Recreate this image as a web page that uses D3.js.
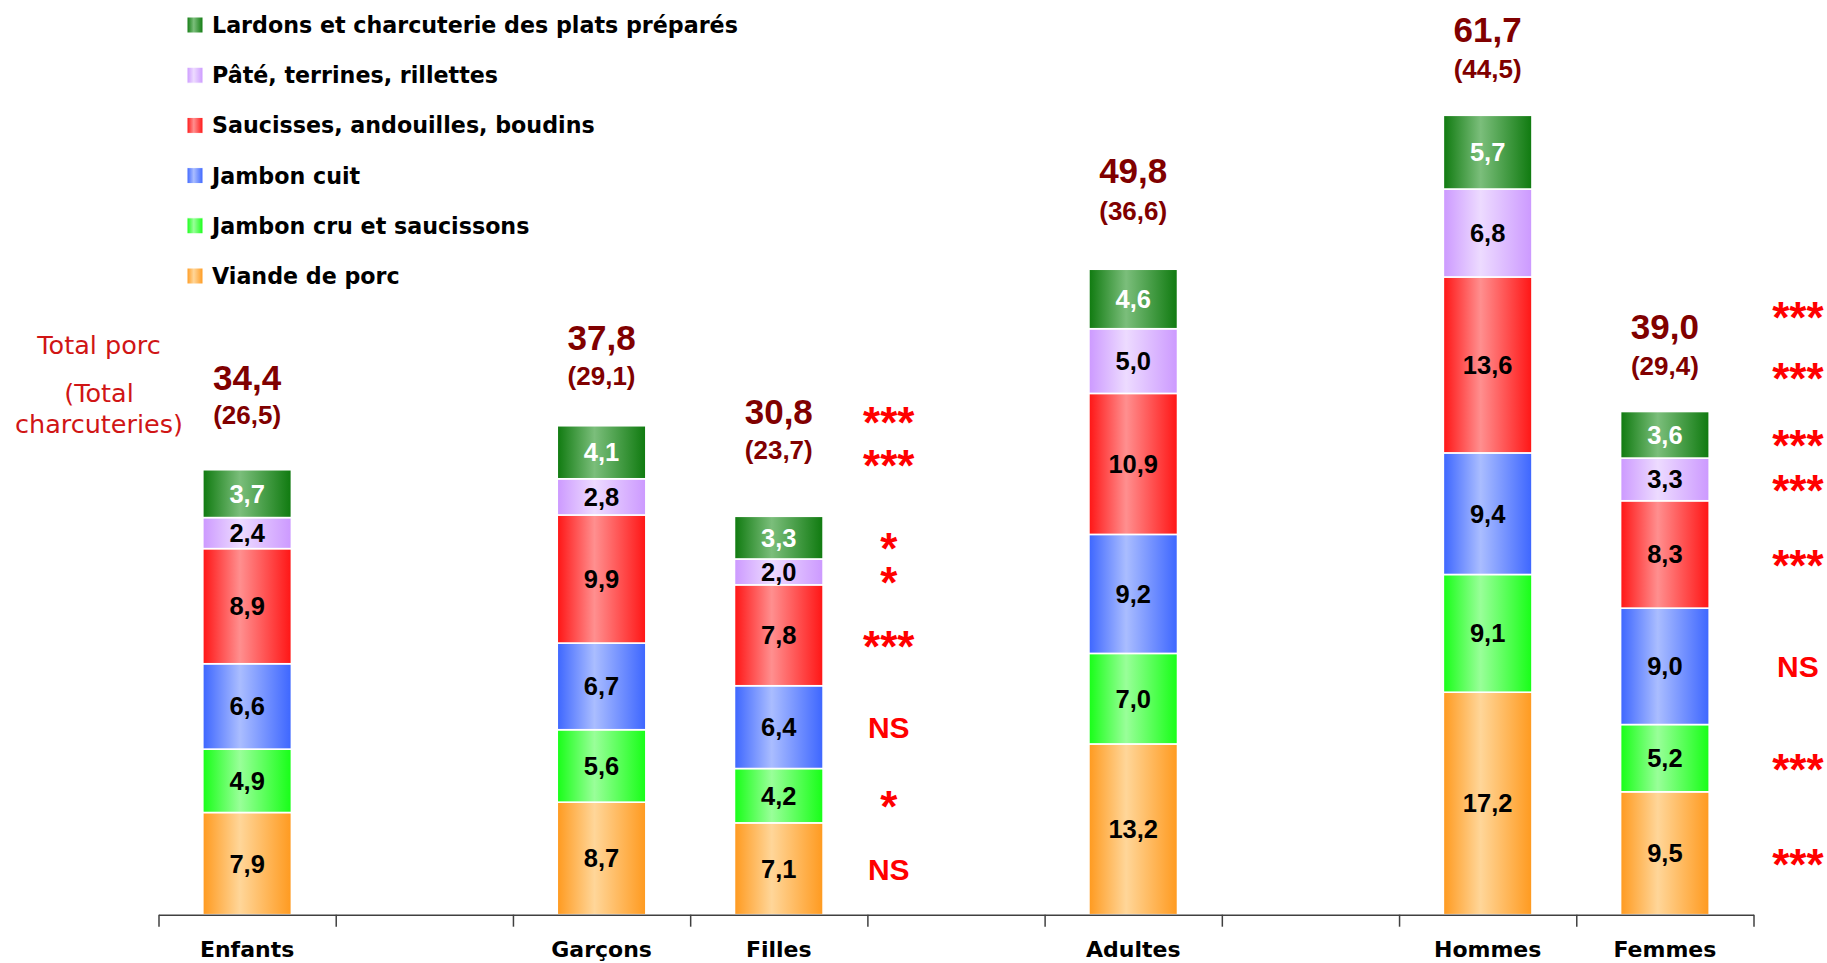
<!DOCTYPE html>
<html><head><meta charset="utf-8">
<script src="https://cdn.jsdelivr.net/npm/d3@7"></script>
<style>html,body{margin:0;padding:0;background:#fff;} svg{display:block;}</style>
</head><body>
<svg id="chart" width="1827" height="963"></svg>
<script>
// ---------------- DATA ----------------
const slotKeys = ["Enfants", "gap1", "Garçons", "Filles", "gap2", "Adultes", "gap3", "Hommes", "Femmes"];
const tickLabels = ["Enfants", "", "Garçons", "Filles", "", "Adultes", "", "Hommes", "Femmes"];
const groups = ["Enfants", "Garçons", "Filles", "Adultes", "Hommes", "Femmes"];
// series, bottom to top of stack
const seriesNames = [
  "Viande de porc",
  "Jambon cru et saucissons",
  "Jambon cuit",
  "Saucisses, andouilles, boudins",
  "Pâté, terrines, rillettes",
  "Lardons et charcuterie des plats préparés"
];
const viandeDePorc      = [7.9, 8.7, 7.1, 13.2, 17.2, 9.5];
const jambonCru         = [4.9, 5.6, 4.2, 7.0, 9.1, 5.2];
const jambonCuit        = [6.6, 6.7, 6.4, 9.2, 9.4, 9.0];
const saucisses         = [8.9, 9.9, 7.8, 10.9, 13.6, 8.3];
const pateTerrines      = [2.4, 2.8, 2.0, 5.0, 6.8, 3.3];
const lardons           = [3.7, 4.1, 3.3, 4.6, 5.7, 3.6];
const totalPorc         = [34.4, 37.8, 30.8, 49.8, 61.7, 39.0];
const totalCharcuteries = [26.5, 29.1, 23.7, 36.6, 44.5, 29.4];
// significance (totals row, charcuteries row, then series bottom to top)
const sigFillesTotals = ["***", "***"];
const sigFillesSeries = ["NS", "*", "NS", "***", "*", "*"];
const sigFemmesTotals = ["***", "***"];
const sigFemmesSeries = ["***", "***", "NS", "***", "***", "***"];
const sideLabelLines = ["Total porc", "(Total", "charcuteries)"];

// ---------------- STYLE / LAYOUT ----------------
const seriesEdge  = ["#FF9A1F", "#17FF17", "#3D66FF", "#FF1515", "#CC99FF", "#0F7A0F"];
const seriesLight = ["#FFD699", "#99FF99", "#AABDFF", "#FF8F8F", "#EDDBFF", "#7BBE7B"];
const valueColor  = ["#000", "#000", "#000", "#000", "#000", "#fff"];
const axisY = 914.7, xLeft = 158.5, xRight = 1753.5;
// layout: how far above each bar top the total labels sit (px)
const layout = {
  totalLift: {Enfants: 92, "Garçons": 88.5, Filles: 105, Adultes: 99, Hommes: 86, Femmes: 85},
  subLift:   {Enfants: 55, "Garçons": 50,   Filles: 66,  Adultes: 58, Hommes: 46.5, Femmes: 45.5},
  sigDx:     {Filles: 110, Femmes: 133},
  sigLift:   {Filles: [105, 62], Femmes: [105, 44]}
};
const gothic = "'DejaVu Sans', Verdana, sans-serif";

const svg = d3.select("#chart");
const defs = svg.append("defs");
const fr = d3.formatLocale({decimal: ",", thousands: " ", grouping: [3], currency: ["", "€"]});
const f1 = fr.format(".1f");

seriesNames.forEach((s, i) => {
  const g = defs.append("linearGradient").attr("id", "grad" + i)
    .attr("x1", "0").attr("x2", "1").attr("y1", "0").attr("y2", "0");
  g.append("stop").attr("offset", "0%").attr("stop-color", seriesEdge[i]);
  g.append("stop").attr("offset", "42%").attr("stop-color", seriesLight[i]);
  g.append("stop").attr("offset", "100%").attr("stop-color", seriesEdge[i]);
});

const x = d3.scaleBand().domain(slotKeys).range([xLeft, xRight]).paddingInner(0.5).paddingOuter(0.25);
const slot = d3.scaleLinear().domain([0, slotKeys.length]).range([xLeft, xRight]);
const y = d3.scaleLinear().domain([0, 61.8]).range([axisY, 115.3]);

const seriesArrays = [viandeDePorc, jambonCru, jambonCuit, saucisses, pateTerrines, lardons];
const table = groups.map((g, gi) => {
  const row = {group: g};
  seriesArrays.forEach((arr, si) => row["s" + si] = arr[gi]);
  return row;
});
const stack = d3.stack().keys(seriesNames.map((_, i) => "s" + i));
const stacked = stack(table);

// bars
const layers = svg.append("g").selectAll("g").data(stacked).join("g")
  .attr("fill", (d, i) => `url(#grad${i})`);
layers.selectAll("rect").data(d => d).join("rect")
  .attr("x", d => x(d.data.group))
  .attr("width", x.bandwidth())
  .attr("y", d => y(d[1]))
  .attr("height", d => y(d[0]) - y(d[1]))
  .attr("stroke", "#fff").attr("stroke-width", 1.6);

// value labels
stacked.forEach((layer, si) => {
  svg.append("g").selectAll("text").data(layer).join("text")
    .attr("x", d => x(d.data.group) + x.bandwidth() / 2)
    .attr("y", d => (y(d[0]) + y(d[1])) / 2)
    .attr("text-anchor", "middle").attr("dominant-baseline", "central")
    .attr("font-family", "'Liberation Sans', Arial, sans-serif")
    .attr("font-weight", "bold").attr("font-size", 25.5)
    .attr("fill", valueColor[si])
    .text(d => f1(d[1] - d[0]));
});

// totals
const tops = groups.map((g, i) => y(d3.sum(seriesArrays, a => a[i])));
svg.append("g").selectAll("text").data(groups).join("text")
  .attr("x", g => x(g) + x.bandwidth() / 2)
  .attr("y", (g, i) => tops[i] - layout.totalLift[g])
  .attr("text-anchor", "middle").attr("dominant-baseline", "central")
  .attr("font-family", "'Liberation Sans', Arial, sans-serif")
  .attr("font-weight", "bold").attr("font-size", 35).attr("fill", "#800000")
  .text((g, i) => f1(totalPorc[i]));
svg.append("g").selectAll("text").data(groups).join("text")
  .attr("x", g => x(g) + x.bandwidth() / 2)
  .attr("y", (g, i) => tops[i] - layout.subLift[g])
  .attr("text-anchor", "middle").attr("dominant-baseline", "central")
  .attr("font-family", "'Liberation Sans', Arial, sans-serif")
  .attr("font-weight", "bold").attr("font-size", 26).attr("fill", "#800000")
  .text((g, i) => "(" + f1(totalCharcuteries[i]) + ")");

// significance columns
function sigColumn(group, totals, series) {
  const gi = groups.indexOf(group);
  const cx = x(group) + x.bandwidth() / 2 + layout.sigDx[group];
  const items = [];
  items.push({t: totals[0], cy: tops[gi] - layout.sigLift[group][0]});
  items.push({t: totals[1], cy: tops[gi] - layout.sigLift[group][1]});
  stacked.forEach((layer, si) => {
    const d = layer[gi];
    items.push({t: series[si], cy: (y(d[0]) + y(d[1])) / 2});
  });
  svg.append("g").selectAll("text").data(items).join("text")
    .attr("x", cx)
    .attr("y", d => d.t === "NS" ? d.cy + 0.36 * 30 : d.cy + 0.6 * 44)
    .attr("text-anchor", "middle")
    .attr("font-family", "'Liberation Sans Narrow', 'Arial Narrow', 'Liberation Sans', sans-serif")
    .attr("font-weight", "bold")
    .attr("font-size", d => d.t === "NS" ? 30 : 44)
    .attr("fill", "#FF0000")
    .text(d => d.t);
}
sigColumn("Filles", sigFillesTotals, sigFillesSeries);
sigColumn("Femmes", sigFemmesTotals, sigFemmesSeries);

// axis: slot boundary ticks
const axisG = svg.append("g").attr("transform", `translate(0,${axisY})`)
  .call(d3.axisBottom(slot).tickValues(d3.range(0, slotKeys.length + 1)).tickFormat("").tickSize(12).tickSizeOuter(0));
axisG.selectAll("path,line").attr("stroke", "#404040").attr("stroke-width", 1.5);

// category labels
const labG = svg.append("g").attr("transform", `translate(0,${axisY})`)
  .call(d3.axisBottom(x).tickSize(0).tickPadding(27).tickFormat((d, i) => tickLabels[i]));
labG.select(".domain").remove();
labG.selectAll("text").attr("font-family", gothic)
  .attr("font-weight", "bold").attr("font-size", 22).attr("fill", "#000");

// side label
svg.append("g").selectAll("text").data(sideLabelLines).join("text")
  .attr("x", 99).attr("y", (d, i) => [345, 393, 424][i])
  .attr("text-anchor", "middle").attr("dominant-baseline", "central")
  .attr("font-family", gothic)
  .attr("font-size", 25.5).attr("fill", "#D01515")
  .text(d => d);

// legend (top to bottom: reverse of stack)
const legendOrder = d3.range(seriesNames.length).reverse();
const leg = svg.append("g").selectAll("g").data(legendOrder).join("g")
  .attr("transform", (d, i) => `translate(187,${25 + i * 50.2})`);
leg.append("rect").attr("x", 0).attr("y", -8).attr("width", 16).attr("height", 16)
  .attr("fill", d => `url(#grad${d})`).attr("stroke", "#fff").attr("stroke-width", 1);
leg.append("text").attr("x", 25).attr("y", 0).attr("dominant-baseline", "central")
  .attr("font-family", gothic)
  .attr("font-weight", "bold").attr("font-size", 22.2).attr("fill", "#000")
  .text(d => seriesNames[d]);
</script>
</body></html>
